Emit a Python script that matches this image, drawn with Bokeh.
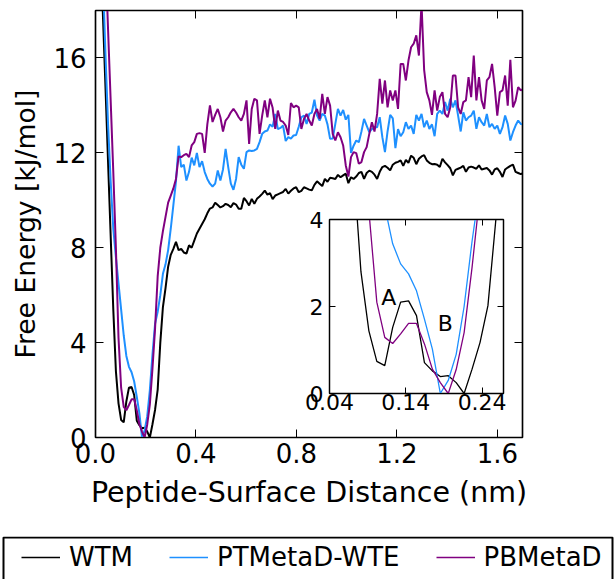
import numpy as np
from bokeh.plotting import figure
from bokeh.models import (Range1d, LinearAxis, FixedTicker, NumeralTickFormatter,
                          Legend, LegendItem, Label, BoxAnnotation,
                          CustomLabelingPolicy)
from bokeh.embed import file_html
from bokeh.resources import INLINE

# ---------------- data ----------------
X0 = 0.0084      # first bin centre (nm)
DX = 0.0104      # bin width (nm)

wtm = [
    24.5, 21.2, 17.9, 14.8, 11.6, 8.5, 5.4, 2.8, 1.44, 0.74,
    0.64, 1.52, 2.10, 2.13, 1.79, 0.71, 0.52, 0.39, 0.41, 0.25,
    0.0, 0.56, 1.17, 2.02, 4.0, 5.5, 6.3, 7.2, 7.7, 7.95,
    8.25, 7.9, 7.95, 7.8, 7.75, 8.1, 8.0, 8.3, 8.6, 8.8,
    9.0, 9.2, 9.45, 9.65, 9.7, 9.9, 9.8, 9.7, 9.75, 9.85,
    9.8, 9.71, 9.88, 9.82, 9.64, 9.64, 10.1, 9.96, 9.78, 10.06,
    9.85, 10.06, 10.16, 10.27, 10.41, 10.24, 10.3, 10.05, 10.2, 10.25,
    10.3, 10.35, 10.48, 10.28, 10.4, 10.5, 10.55, 10.34, 10.4, 10.55,
    10.5, 10.45, 10.42, 10.65, 10.8, 10.7, 10.6, 10.9, 10.78, 10.95,
    10.93, 10.9, 11.07, 10.97, 11.05, 11.12, 10.72, 10.97, 10.9, 11.0,
    11.15, 11.2, 10.9, 11.15, 11.25, 11.2, 11.08, 10.9, 11.2, 11.4,
    11.45, 11.37, 11.26, 11.5, 11.58, 11.62, 11.68, 11.45, 11.7, 11.58,
    11.88, 11.79, 11.52, 11.75, 11.85, 11.9, 11.68, 11.58, 11.52, 11.53,
    11.5, 11.4, 11.75, 11.6, 11.48, 11.35, 11.05, 11.28, 11.33, 11.38,
    11.45, 11.2, 11.38, 11.42, 11.38, 11.33, 11.47, 11.3, 11.33, 11.36,
    11.26, 11.08, 11.3, 11.35, 11.2, 10.98, 11.3, 11.38, 11.45, 11.5,
    11.2, 11.15, 11.1, 11.15,
]

ptmetad_wte = [
    27.0, 23.0, 19.5, 16.2, 13.2, 10.8, 8.8, 7.6, 6.5, 5.4,
    4.3, 3.44, 2.98, 2.75, 2.36, 1.71, 1.02, 0.0, 0.3, 0.9,
    2.0, 3.5, 4.8, 5.3, 6.0, 6.9, 7.3, 7.9, 8.8, 9.8,
    10.8, 12.3, 11.4, 11.5, 10.83, 11.2, 11.8, 11.47, 12.0, 11.4,
    11.65, 11.19, 10.9, 10.7, 10.58, 10.7, 11.26, 10.83, 11.3, 12.17,
    11.4, 10.7, 10.44, 10.9, 11.82, 11.5, 11.33, 12.03, 12.1, 12.08,
    12.1, 12.17, 12.45, 12.8, 12.9, 12.94, 13.2, 13.1, 13.64, 13.0,
    13.05, 13.15, 12.5, 12.66, 12.6, 12.73, 12.75, 13.1, 13.5, 13.57,
    13.22, 13.64, 13.7, 14.24, 13.57, 13.36, 13.64, 13.57, 13.2, 12.59,
    12.6, 13.22, 13.85, 13.57, 13.81, 13.4, 13.6, 12.0, 12.3, 12.52,
    12.45, 12.9, 13.43, 13.15, 12.87, 13.0, 13.08, 13.08, 13.5, 12.66,
    12.03, 12.9, 13.6, 13.45, 12.2, 13.0, 12.7, 12.87, 13.29, 13.01,
    13.15, 12.8, 13.6, 13.36, 13.64, 13.08, 13.36, 13.01, 13.2, 12.7,
    13.64, 13.78, 13.64, 14.14, 13.78, 14.28, 13.92, 14.21, 13.57, 12.9,
    13.71, 13.36, 13.5, 13.57, 13.78, 13.01, 13.5, 13.29, 13.15, 13.64,
    13.08, 13.22, 13.01, 13.15, 12.8, 13.08, 13.57, 13.22, 12.52, 12.87,
    13.15, 13.36, 13.22, 13.2,
]

pbmetad = [
    29.0, 26.0, 23.0, 20.3, 17.2, 14.2, 11.2, 8.0, 4.2, 2.10,
    1.29, 1.15, 1.37, 1.61, 1.61, 1.14, 0.56, 0.25, 0.0, 0.55,
    1.4, 2.9, 4.6, 6.8, 8.0, 8.7, 9.3, 9.9, 10.2, 10.5,
    10.9, 11.85, 11.82, 11.9, 11.96, 11.82, 12.31, 12.45, 12.8, 12.83,
    12.8, 12.0, 13.2, 14.0, 13.3, 13.6, 13.85, 13.5, 12.9, 13.36,
    13.5, 13.71, 13.85, 13.7, 13.5, 13.36, 13.64, 14.21, 12.38, 13.85,
    14.28, 14.21, 12.8, 13.57, 14.21, 13.5, 14.28, 13.9, 13.01, 13.78,
    13.36, 13.3, 13.15, 12.75, 14.1, 13.92, 13.99, 13.92, 13.01, 13.43,
    13.64, 13.36, 13.15, 13.64, 13.85, 13.43, 14.49, 13.64, 14.35, 13.99,
    12.8, 12.52, 12.87, 12.66, 12.31, 11.47, 11.0, 11.82, 12.03, 11.99,
    11.54, 11.61, 12.03, 12.24, 12.8, 13.29, 12.9, 13.64, 15.12, 14.07,
    15.05, 13.92, 14.63, 14.21, 14.63, 13.85, 15.75, 15.75, 15.05, 15.89,
    16.45, 16.6, 16.95, 16.1, 18.3, 15.5, 14.56, 14.21, 13.6, 14.63,
    13.78, 14.35, 14.56, 13.64, 13.5, 13.92, 15.26, 15.26, 13.92, 13.64,
    14.14, 14.21, 15.19, 14.35, 16.1, 14.21, 15.19, 14.21, 13.85, 15.05,
    15.19, 15.75, 14.77, 13.57, 14.56, 14.63, 15.26, 13.99, 15.92, 13.92,
    14.2, 14.77, 14.63, 14.7,
]

series_names = ["WTM", "PTMetaD-WTE", "PBMetaD"]
series_values = [wtm, ptmetad_wte, pbmetad]
series_colors = ["#000000", "#1E90FF", "#800080"]

main_x_ticks = [0.0, 0.4, 0.8, 1.2, 1.6]
main_y_ticks = [0, 4, 8, 12, 16]
inset_x_ticks = [0.04, 0.14, 0.24]
inset_y_ticks = [0, 2, 4]
inset_labels = [("A", 0.1177, 2.21), ("B", 0.1918, 1.60)]

FONT = "DejaVu Sans"


def bins(vals):
    return X0 + DX * np.arange(len(vals))


def style_axis(ax, ticks, fmt, size, tick_len, standoff, show_labels=True):
    ax.ticker = FixedTicker(ticks=ticks)
    ax.formatter = NumeralTickFormatter(format=fmt)
    ax.major_tick_in = tick_len
    ax.major_tick_out = 0
    ax.major_tick_line_color = "black"
    ax.major_tick_line_width = 1
    ax.minor_tick_line_color = None
    ax.axis_line_color = "black"
    ax.axis_line_width = 1.2
    ax.major_label_standoff = standoff
    ax.major_label_text_font = FONT
    ax.major_label_text_color = "black"
    ax.major_label_text_font_size = size
    ax.axis_label_text_font = FONT
    ax.axis_label_text_font_style = "normal"
    ax.axis_label_text_color = "black"
    if not show_labels:
        ax.major_label_text_font_size = "1px"
        ax.major_label_policy = CustomLabelingPolicy(code="return new Set()")


# ---------------- main plot ----------------
main = figure(frame_width=427, frame_height=427,
              min_border_left=95, min_border_right=92,
              min_border_top=10, min_border_bottom=142,
              x_range=Range1d(0, 1.7), y_range=Range1d(0, 18),
              output_backend="svg", toolbar_location=None)
main.background_fill_color = "white"
main.border_fill_color = "white"
main.outline_line_color = "black"
main.outline_line_width = 1.5
main.xgrid.grid_line_color = None
main.ygrid.grid_line_color = None

style_axis(main.xaxis[0], main_x_ticks, "0.0", "26px", 8, 5)
style_axis(main.yaxis[0], main_y_ticks, "0", "26px", 8, 9)
main.xaxis[0].axis_label = "Peptide-Surface Distance (nm)"
main.yaxis[0].axis_label = "Free Energy [kJ/mol]"
main.xaxis[0].axis_label_text_font_size = "28.5px"
main.yaxis[0].axis_label_text_font_size = "26.6px"
main.xaxis[0].axis_label_standoff = 10
main.yaxis[0].axis_label_standoff = 9

top_ax = LinearAxis()
style_axis(top_ax, main_x_ticks, "0.0", "26px", 8, 0, show_labels=False)
main.add_layout(top_ax, "above")
right_ax = LinearAxis()
style_axis(right_ax, main_y_ticks, "0", "26px", 8, 0, show_labels=False)
main.add_layout(right_ax, "right")

for name, vals, col in zip(series_names, series_values, series_colors):
    main.line(bins(vals), vals, line_color=col, line_width=2)

# ---------------- inset ----------------
inset = figure(frame_width=174, frame_height=174,
               min_border_left=40, min_border_right=15,
               min_border_top=15, min_border_bottom=35,
               x_range=Range1d(0.04, 0.268), y_range=Range1d(0, 4),
               output_backend="svg", toolbar_location=None,
               styles={"position": "absolute", "left": "289px", "top": "204px"})
inset.background_fill_color = "white"
inset.border_fill_alpha = 0
inset.outline_line_color = "black"
inset.outline_line_width = 1.3
inset.xgrid.grid_line_color = None
inset.ygrid.grid_line_color = None
style_axis(inset.xaxis[0], inset_x_ticks, "0.00", "22px", 6, 0)
style_axis(inset.yaxis[0], inset_y_ticks, "0", "22px", 6, 6)
it = LinearAxis()
style_axis(it, inset_x_ticks, "0.00", "22px", 6, 0, show_labels=False)
inset.add_layout(it, "above")
ir = LinearAxis()
style_axis(ir, inset_y_ticks, "0", "22px", 6, 0, show_labels=False)
inset.add_layout(ir, "right")

for name, vals, col in zip(series_names, series_values, series_colors):
    inset.line(bins(vals), vals, line_color=col, line_width=1.3)

for txt, lx, ly in inset_labels:
    inset.add_layout(Label(x=lx, y=ly, text=txt, text_align="center",
                           text_baseline="middle", text_font=FONT,
                           text_font_size="22px", text_color="black"))

# ---------------- legend strip ----------------
# The strip shows no data region (its x range lies outside the data), it only
# carries the legend entries for the three series.
leg = figure(width=614, height=43, min_border=0,
             x_range=Range1d(-3, -2), y_range=Range1d(0, 1),
             x_axis_type=None, y_axis_type=None,
             output_backend="svg", toolbar_location=None,
             styles={"position": "absolute", "left": "0px", "top": "536px"})
leg.outline_line_color = None
leg.background_fill_color = "white"
leg.border_fill_color = "white"
items = []
for name, vals, col in zip(series_names, series_values, series_colors):
    r = leg.line(bins(vals), vals, line_color=col, line_width=1.3)
    items.append(LegendItem(label=name, renderers=[r]))
legend = Legend(items=items, orientation="horizontal",
                location=(21, 7), padding=0, spacing=36,
                glyph_width=39, label_standoff=9,
                label_text_font=FONT, label_text_font_size="26px",
                label_text_color="black",
                border_line_color=None, background_fill_alpha=0, margin=0)
leg.add_layout(legend, "center")
leg.add_layout(BoxAnnotation(left=3, right=612, top=1, bottom=90,
                             left_units="canvas", right_units="canvas",
                             top_units="canvas", bottom_units="canvas",
                             fill_color=None, fill_alpha=0,
                             line_color="black", line_alpha=1.0,
                             line_width=2))

open("out.html", "w").write(file_html([main, inset, leg], INLINE))
